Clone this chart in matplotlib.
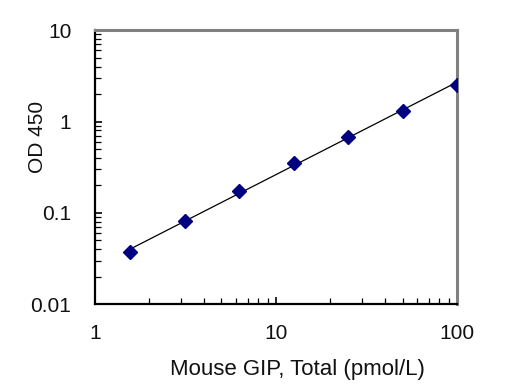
import numpy as np
import matplotlib
matplotlib.use("Agg")
import matplotlib.pyplot as plt
from matplotlib.ticker import LogLocator, FixedFormatter, FixedLocator, NullFormatter

plt.rcParams['font.family'] = ['Liberation Sans', 'DejaVu Sans']

# standard curve
conc = [1.5625, 3.125, 6.25, 12.5, 25, 50, 100]
od = [0.037, 0.081, 0.172, 0.35, 0.685, 1.32, 2.54]

x_ticks = [1, 10, 100]
x_ticklabels = ["1", "10", "100"]
y_ticks = [0.01, 0.1, 1, 10]
y_ticklabels = ["0.01", "0.1", "1", "10"]

# power fit through the points
p = np.polyfit(np.log10(conc), np.log10(od), 1)
xf = np.array([conc[0], conc[-1]])
yf = 10 ** np.polyval(p, np.log10(xf))

fig = plt.figure(figsize=(5.05, 3.87), dpi=100)
ax = fig.add_axes([0.188, 0.214, 0.717, 0.708])

ax.plot(xf, yf, color="black", lw=0.9, zorder=2)
ax.plot(conc, od, ls="none", marker="D", ms=7.5, color="#000080", mec="#000080", zorder=3)

ax.set_xscale("log")
ax.set_yscale("log")
ax.set_xlim(1, 100)
ax.set_ylim(0.01, 10)

ax.xaxis.set_major_locator(FixedLocator(x_ticks))
ax.xaxis.set_major_formatter(FixedFormatter(x_ticklabels))
ax.yaxis.set_major_locator(FixedLocator(y_ticks))
ax.yaxis.set_major_formatter(FixedFormatter(y_ticklabels))
ax.xaxis.set_minor_locator(LogLocator(base=10, subs=np.arange(2, 10)))
ax.yaxis.set_minor_locator(LogLocator(base=10, subs=np.arange(2, 10)))
ax.xaxis.set_minor_formatter(NullFormatter())
ax.yaxis.set_minor_formatter(NullFormatter())

ax.tick_params(which="major", direction="in", length=5, width=1.2, colors="black",
               labelcolor="#111111", labelsize=15)
ax.tick_params(axis="x", which="major", pad=14)
ax.tick_params(axis="y", which="major", pad=17)
ax.tick_params(which="minor", direction="in", length=4, width=0.9, colors="black")
ax.tick_params(axis="y", which="both", right=False)
ax.tick_params(axis="x", which="both", top=False)

for s in ["left", "bottom"]:
    ax.spines[s].set_color("black")
    ax.spines[s].set_linewidth(1.6)
for s in ["top", "right"]:
    ax.spines[s].set_color("#808080")
    ax.spines[s].set_linewidth(2.2)

ax.set_xlabel("Mouse GIP, Total (pmol/L)", fontsize=16, color="#111111")
ax.xaxis.set_label_coords(0.558, -0.2)
ax.set_ylabel("OD 450", fontsize=15, color="#111111")
ax.yaxis.set_label_coords(-0.133, 0.61)

fig.savefig("out.png", dpi=100)
